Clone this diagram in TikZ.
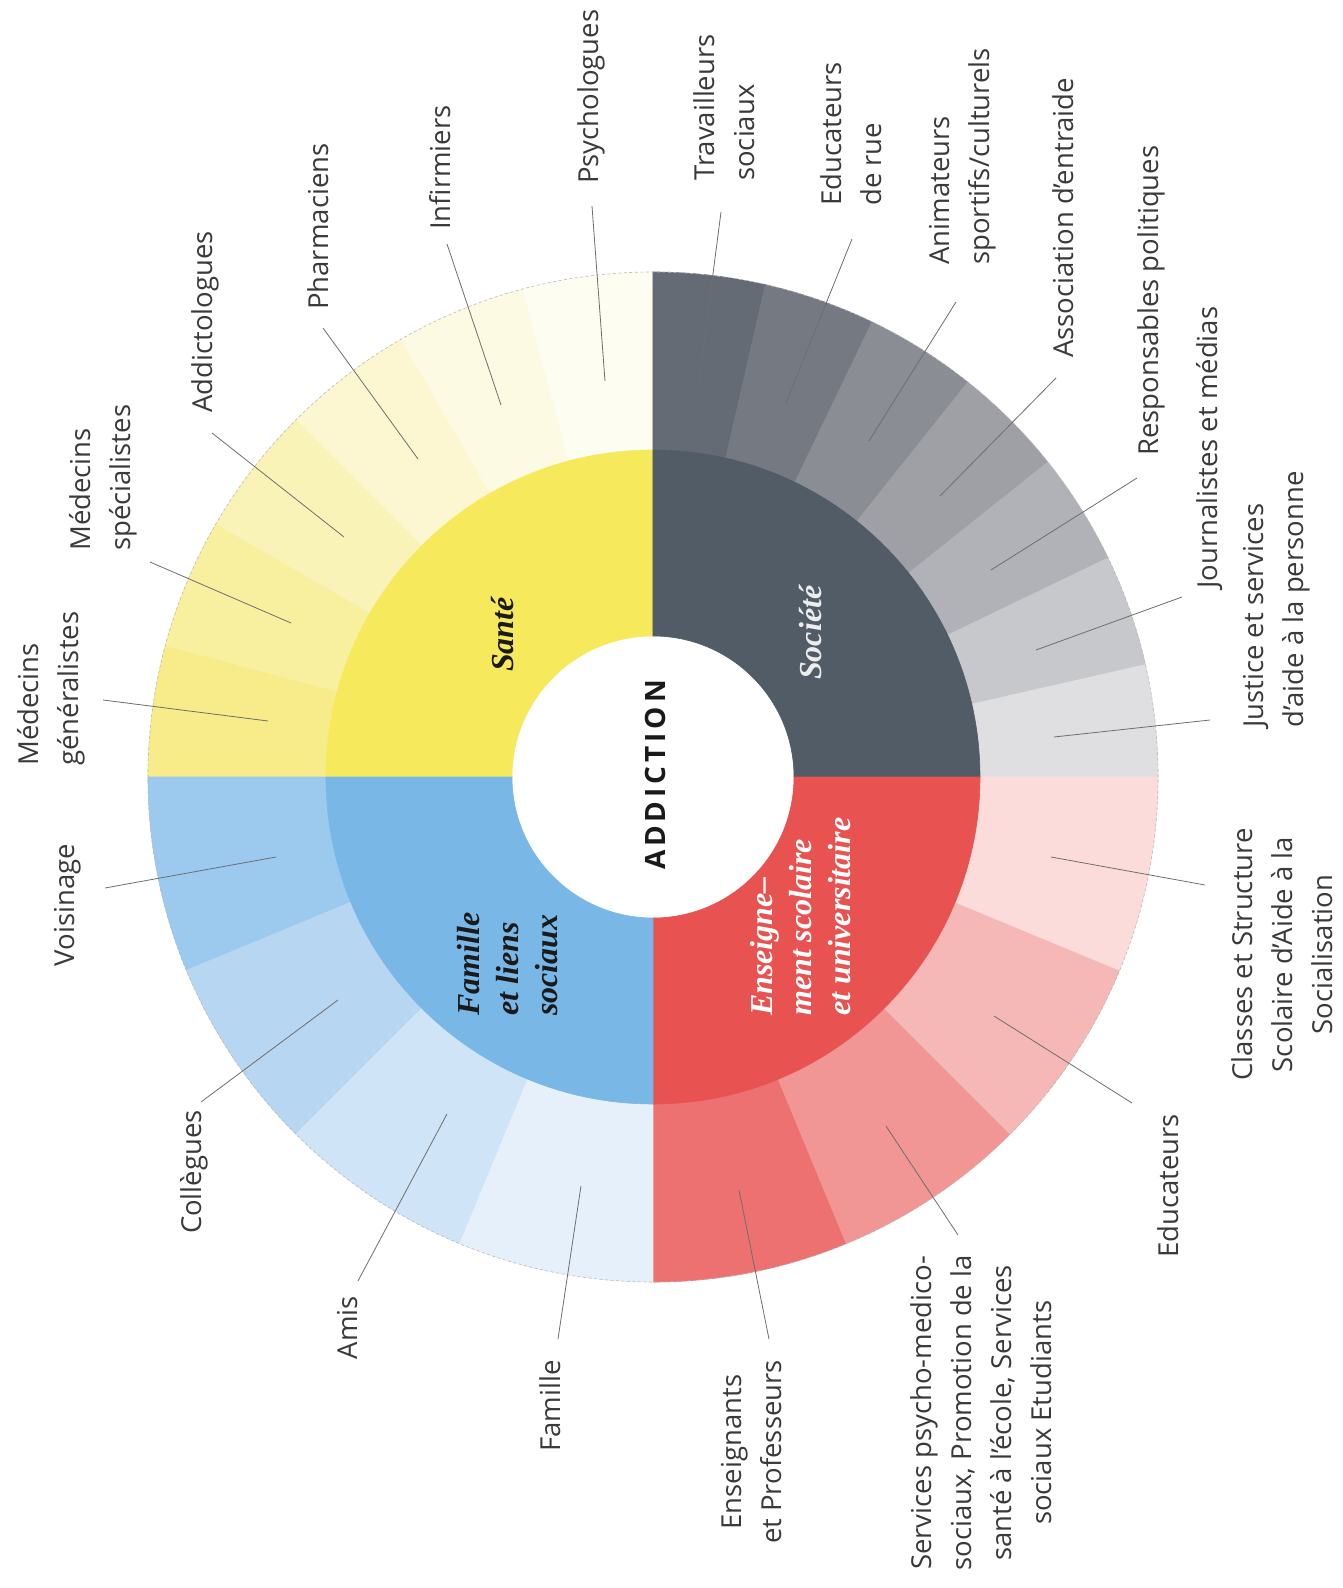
\documentclass[tikz,border=0pt]{standalone}
\usepackage{fontspec}
\setmainfont{Open Sans}
\newfontfamily\catfont{Liberation Serif}
\newfontfamily\hubfont[LetterSpace=14]{Open Sans}
\usepackage{tikz}

% quadrant colours, middle ring
\definecolor{sante}{HTML}{F6EA5C}
\definecolor{societe}{HTML}{525C67}
\definecolor{ecole}{HTML}{E85250}
\definecolor{famille}{HTML}{78B7E6}
% outer ring shades
\definecolor{santeA}{HTML}{FEFDF1}
\definecolor{santeB}{HTML}{FDFAE3}
\definecolor{santeC}{HTML}{FCF7D0}
\definecolor{santeD}{HTML}{FAF3B8}
\definecolor{santeE}{HTML}{F8EF9F}
\definecolor{santeF}{HTML}{F7EC89}
\definecolor{societeA}{HTML}{656B74}
\definecolor{societeB}{HTML}{757981}
\definecolor{societeC}{HTML}{8A8D94}
\definecolor{societeD}{HTML}{9EA0A6}
\definecolor{societeE}{HTML}{B1B2B7}
\definecolor{societeF}{HTML}{C7C8CB}
\definecolor{societeG}{HTML}{DFDFE2}
\definecolor{ecoleA}{HTML}{EC7170}
\definecolor{ecoleB}{HTML}{F19695}
\definecolor{ecoleC}{HTML}{F6B8B7}
\definecolor{ecoleD}{HTML}{FBDCDB}
\definecolor{familleA}{HTML}{9CC9EE}
\definecolor{familleB}{HTML}{B6D6F2}
\definecolor{familleC}{HTML}{CFE4F6}
\definecolor{familleD}{HTML}{E6F0FA}
\definecolor{labelgray}{HTML}{3A3A3A}
\definecolor{linegray}{HTML}{6E6E6E}
\definecolor{catdark}{HTML}{1A1A1A}
\definecolor{catlight}{HTML}{EDEDED}

\tikzset{
  seg/.style={fill=#1, draw=#1, line width=0.6pt},
  rim/.style={draw=gray!55, line width=0.6pt, dash pattern=on 3pt off 2.5pt},
  lbl/.style={rotate=90, inner sep=0pt, text=labelgray, font=\fontsize{27.5}{40}\selectfont},
  toplbl/.style={lbl, anchor=west, align=left},
  botlbl/.style={lbl, anchor=east, align=center},
  cat/.style={rotate=90, inner sep=0pt, anchor=west, align=left, font=\catfont\bfseries\itshape\fontsize{32}{39}\selectfont},
  hub/.style={rotate=90, inner sep=0pt, text=catdark, font=\hubfont\bfseries\fontsize{28}{34}\selectfont},
  leader/.style={draw=linegray, line width=0.8pt},
}

% annular sector: colour, start angle, end angle, inner radius, outer radius
\newcommand{\ringseg}[5]{%
  \path[seg=#1] (#2:#4) arc[start angle=#2, end angle=#3, radius=#4]
    -- (#3:#5) arc[start angle=#3, end angle=#2, radius=#5] -- cycle;}

\begin{document}
\begin{tikzpicture}[x=1pt, y=1pt]
  \path[fill=white, use as bounding box] (-653,-811) rectangle (689,777);

  % outer ring
  \ringseg{santeA}{90}{105}{327}{505}
  \ringseg{santeB}{105}{120}{327}{505}
  \ringseg{santeC}{120}{135}{327}{505}
  \ringseg{santeD}{135}{150}{327}{505}
  \ringseg{santeE}{150}{165}{327}{505}
  \ringseg{santeF}{165}{180}{327}{505}
  \ringseg{societeA}{77.14}{90}{327}{505}
  \ringseg{societeB}{64.29}{77.14}{327}{505}
  \ringseg{societeC}{51.43}{64.29}{327}{505}
  \ringseg{societeD}{38.57}{51.43}{327}{505}
  \ringseg{societeE}{25.71}{38.57}{327}{505}
  \ringseg{societeF}{12.86}{25.71}{327}{505}
  \ringseg{societeG}{0}{12.86}{327}{505}
  \ringseg{ecoleA}{270}{292.5}{327}{505}
  \ringseg{ecoleB}{292.5}{315}{327}{505}
  \ringseg{ecoleC}{315}{337.5}{327}{505}
  \ringseg{ecoleD}{337.5}{360}{327}{505}
  \ringseg{familleA}{180}{202.5}{327}{505}
  \ringseg{familleB}{202.5}{225}{327}{505}
  \ringseg{familleC}{225}{247.5}{327}{505}
  \ringseg{familleD}{247.5}{270}{327}{505}
  \draw[rim] (0,0) circle (505);

  % middle ring
  \ringseg{sante}{90}{180}{141}{327}
  \ringseg{societe}{0}{90}{141}{327}
  \ringseg{ecole}{270}{360}{141}{327}
  \ringseg{famille}{180}{270}{141}{327}

  \node[hub] (addiction) at (2,2) {ADDICTION};
  \node[cat, text=catdark] (sante) at (-150,105) {Santé};
  \node[cat, text=catlight] (societe) at (158,97) {Société};
  \node[cat, text=catdark] (liens) at (-145,-239) {Famille\\et liens\\sociaux};
  \node[cat, text=white] (enseignement) at (148,-239) {Enseigne–\\ment scolaire\\et universitaire};

  % Santé
  \node[toplbl] (psy) at (-62,593) {Psychologues};
  \node[toplbl] (inf) at (-213,547) {Infirmiers};
  \node[toplbl] (pha) at (-335,467) {Pharmaciens};
  \node[toplbl] (add) at (-448,364) {Addictologues};
  \node[toplbl] (spe) at (-550,226) {Médecins\\spécialistes};
  \node[toplbl] (gen) at (-602,11) {Médecins\\généralistes};
  % Société
  \node[toplbl] (trav) at (71,596) {Travailleurs\\sociaux};
  \node[toplbl] (rue) at (198,571) {Educateurs\\de rue};
  \node[toplbl] (anim) at (310,512) {Animateurs\\sportifs/culturels};
  \node[toplbl] (asso) at (410,419) {Association d’entraide};
  \node[toplbl] (resp) at (498,321) {Responsables politiques};
  \node[toplbl] (jour) at (557,188) {Journalistes et médias};
  \node[toplbl] (just) at (624,49) {Justice et services\\d’aide à la personne};
  % Enseignement
  \node[botlbl] (cla) at (629,-51) {Classes et Structure\\Scolaire d’Aide à la\\Socialisation};
  \node[botlbl] (edu) at (515,-337) {Educateurs};
  \node[botlbl] (serv) at (328,-478) {Services psycho-medico-\\sociaux, Promotion de la\\santé à l’école, Services\\sociaux Etudiants};
  \node[botlbl] (ens) at (99,-583) {Enseignants\\et Professeurs};
  % Famille
  \node[botlbl] (fam) at (-103,-583) {Famille};
  \node[botlbl] (amis) at (-305,-519) {Amis};
  \node[botlbl] (coll) at (-459,-333) {Collègues};
  \node[botlbl] (vois) at (-585,-67) {Voisinage};

  % leader lines
  \coordinate (psy-in) at (-48,396);   \coordinate (psy-out) at (-61,571);
  \coordinate (inf-in) at (-152,372);  \coordinate (inf-out) at (-206,533);
  \coordinate (pha-in) at (-235,318);  \coordinate (pha-out) at (-330,449);
  \coordinate (add-in) at (-309,240);  \coordinate (add-out) at (-441,344);
  \coordinate (spe-in) at (-362,154);  \coordinate (spe-out) at (-503,215);
  \coordinate (gen-in) at (-385,56);   \coordinate (gen-out) at (-550,77);
  \coordinate (trav-in) at (45,387);   \coordinate (trav-out) at (68,565);
  \coordinate (rue-in) at (133,374);   \coordinate (rue-out) at (199,538);
  \coordinate (anim-in) at (216,336);  \coordinate (anim-out) at (303,475);
  \coordinate (asso-in) at (287,281);  \coordinate (asso-out) at (403,399);
  \coordinate (resp-in) at (338,207);  \coordinate (resp-out) at (484,299);
  \coordinate (jour-in) at (383,127);  \coordinate (jour-out) at (529,180);
  \coordinate (just-in) at (401,40);   \coordinate (just-out) at (557,57);
  \coordinate (cla-in) at (398,-80);   \coordinate (cla-out) at (552,-108);
  \coordinate (edu-in) at (341,-239);  \coordinate (edu-out) at (479,-326);
  \coordinate (serv-in) at (233,-349); \coordinate (serv-out) at (305,-458);
  \coordinate (ens-in) at (86,-413);   \coordinate (ens-out) at (116,-562);
  \coordinate (fam-in) at (-72,-409);  \coordinate (fam-out) at (-95,-562);
  \coordinate (amis-in) at (-206,-337);\coordinate (amis-out) at (-295,-504);
  \coordinate (coll-in) at (-315,-223);\coordinate (coll-out) at (-452,-325);
  \coordinate (vois-in) at (-377,-80); \coordinate (vois-out) at (-548,-111);

  \draw[leader] (psy-in) -- (psy-out);
  \draw[leader] (inf-in) -- (inf-out);
  \draw[leader] (pha-in) -- (pha-out);
  \draw[leader] (add-in) -- (add-out);
  \draw[leader] (spe-in) -- (spe-out);
  \draw[leader] (gen-in) -- (gen-out);
  \draw[leader] (trav-in) -- (trav-out);
  \draw[leader] (rue-in) -- (rue-out);
  \draw[leader] (anim-in) -- (anim-out);
  \draw[leader] (asso-in) -- (asso-out);
  \draw[leader] (resp-in) -- (resp-out);
  \draw[leader] (jour-in) -- (jour-out);
  \draw[leader] (just-in) -- (just-out);
  \draw[leader] (cla-in) -- (cla-out);
  \draw[leader] (edu-in) -- (edu-out);
  \draw[leader] (serv-in) -- (serv-out);
  \draw[leader] (ens-in) -- (ens-out);
  \draw[leader] (fam-in) -- (fam-out);
  \draw[leader] (amis-in) -- (amis-out);
  \draw[leader] (coll-in) -- (coll-out);
  \draw[leader] (vois-in) -- (vois-out);
\end{tikzpicture}
\end{document}
